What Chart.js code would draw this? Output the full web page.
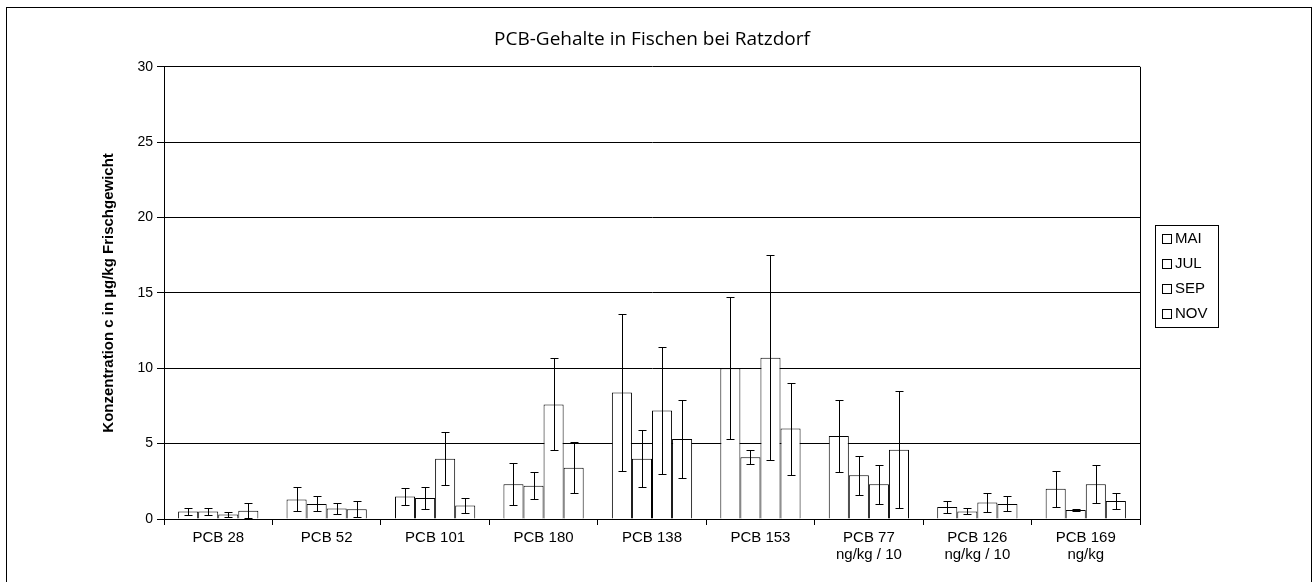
<!DOCTYPE html>
<html>
<head>
<meta charset="utf-8">
<title>PCB-Gehalte in Fischen bei Ratzdorf</title>
<script src="https://cdn.jsdelivr.net/npm/chart.js@4.4.1/dist/chart.umd.min.js"></script>
<style>
  body { margin: 0; background: #fff; }
  canvas { display: block; }
</style>
</head>
<body>
<canvas id="pcbChart" width="1316" height="582"></canvas>
<script>
// categories (multi-line where the original wraps)
const kategorien = ['PCB 28', 'PCB 52', 'PCB 101', 'PCB 180', 'PCB 138', 'PCB 153',
  ['PCB 77', 'ng/kg / 10'], ['PCB 126', 'ng/kg / 10'], ['PCB 169', 'ng/kg']];

const monate = ['MAI', 'JUL', 'SEP', 'NOV'];

// mean values, µg/kg
const werteMai = [0.5, 1.3, 1.5, 2.3, 8.4, 10.0, 5.5, 0.8, 2.0];
const werteJul = [0.5, 1.0, 1.4, 2.2, 4.0, 4.1, 2.9, 0.5, 0.6];
const werteSep = [0.3, 0.7, 4.0, 7.6, 7.2, 10.7, 2.3, 1.1, 2.3];
const werteNov = [0.55, 0.65, 0.9, 3.4, 5.3, 6.0, 4.6, 1.0, 1.2];

// standard deviation (+/-)
const fehlerMai = [0.25, 0.8, 0.55, 1.4, 5.2, 4.7, 2.4, 0.4, 1.2];
const fehlerJul = [0.25, 0.5, 0.75, 0.9, 1.9, 0.45, 1.3, 0.2, 0.05];
const fehlerSep = [0.15, 0.35, 1.75, 3.05, 4.2, 6.8, 1.3, 0.65, 1.25];
const fehlerNov = [0.5, 0.55, 0.5, 1.7, 2.6, 3.05, 3.9, 0.5, 0.55];

const yTicks = [0, 5, 10, 15, 20, 25, 30];

const werte = [werteMai, werteJul, werteSep, werteNov];
const fehler = [fehlerMai, fehlerJul, fehlerSep, fehlerNov];

// error bars drawn from the bar elements + y scale
const errorBars = {
  id: 'errorBars',
  afterDatasetsDraw(chart) {
    const ctx = chart.ctx;
    const y = chart.scales.y;
    ctx.save();
    ctx.strokeStyle = '#000';
    ctx.lineWidth = 1;
    chart.data.datasets.forEach((ds, i) => {
      const meta = chart.getDatasetMeta(i);
      meta.data.forEach((bar, j) => {
        const e = ds.errors[j];
        const v = ds.data[j];
        const x = Math.round(bar.x) + 0.5;
        const top = Math.round(y.getPixelForValue(v + e)) + 0.5;
        const bot = Math.round(y.getPixelForValue(Math.max(0, v - e))) + 0.5;
        ctx.beginPath();
        ctx.moveTo(x, top); ctx.lineTo(x, bot);
        ctx.moveTo(x - 4, top); ctx.lineTo(x + 4, top);
        ctx.moveTo(x - 4, bot); ctx.lineTo(x + 4, bot);
        ctx.stroke();
      });
    });
    ctx.restore();
  }
};

// outer frame, plot box and legend
const rahmen = {
  id: 'rahmen',
  afterDraw(chart) {
    const ctx = chart.ctx;
    const a = chart.chartArea;
    ctx.save();
    ctx.strokeStyle = '#000';
    ctx.lineWidth = 1;
    ctx.strokeRect(6.5, 7.5, 1305, 600);
    ctx.beginPath();
    ctx.moveTo(Math.round(a.right) + 0.5, a.top);
    ctx.lineTo(Math.round(a.right) + 0.5, a.bottom);
    ctx.stroke();

    // legend
    const lx = a.right + 15, ly = 225;
    ctx.strokeRect(lx + 0.5, ly + 0.5, 63, 102);
    ctx.font = '15px "Liberation Sans", Arial, sans-serif';
    ctx.fillStyle = '#000';
    ctx.textBaseline = 'middle';
    chart.data.datasets.forEach((ds, i) => {
      const cy = ly + 14 + i * 25;
      ctx.strokeRect(lx + 7.5, cy - 4.5, 9, 9);
      ctx.fillText(ds.label, lx + 20, cy);
    });
    ctx.restore();
  }
};

const ctx = document.getElementById('pcbChart').getContext('2d');
new Chart(ctx, {
  type: 'bar',
  data: {
    labels: kategorien,
    datasets: monate.map((m, i) => ({
      label: m,
      data: werte[i],
      errors: fehler[i],
      backgroundColor: '#fff',
      borderColor: '#000',
      borderWidth: 1,
      categoryPercentage: 0.74,
      barPercentage: 1.0
    }))
  },
  options: {
    responsive: false,
    animation: false,
    layout: { padding: { left: 100, right: 176, top: 20, bottom: 0 } },
    scales: {
      x: {
        grid: { display: true, drawOnChartArea: false, offset: true, color: '#000', tickLength: 6 },
        border: { color: '#000' },
        ticks: { color: '#000', padding: 5, maxRotation: 0,
          font: { family: '"Liberation Sans", Arial, sans-serif', size: 15, lineHeight: 1.1 } },
        afterFit(scale) { scale.height = 63; }
      },
      y: {
        min: 0,
        max: 30,
        afterBuildTicks(scale) { scale.ticks = yTicks.map(v => ({ value: v })); },
        grid: { color: '#000', tickLength: 7 },
        border: { color: '#000' },
        ticks: { color: '#000', padding: 4,
          font: { family: '"Liberation Sans", Arial, sans-serif', size: 14 } },
        title: {
          display: true,
          text: 'Konzentration c in µg/kg Frischgewicht',
          color: '#000',
          padding: { top: 0, bottom: 0 },
          font: { family: '"Liberation Sans", Arial, sans-serif', size: 15, weight: 'bold' }
        },
        afterFit(scale) { scale.width = 64; }
      }
    },
    plugins: {
      legend: { display: false },
      tooltip: { enabled: false },
      title: {
        display: true,
        fullSize: false,
        text: 'PCB-Gehalte in Fischen bei Ratzdorf',
        color: '#000',
        padding: { top: 8, bottom: 16 },
        font: { family: '"Open Sans", sans-serif', size: 19, weight: 'normal' }
      }
    }
  },
  plugins: [errorBars, rahmen]
});
</script>
</body>
</html>
